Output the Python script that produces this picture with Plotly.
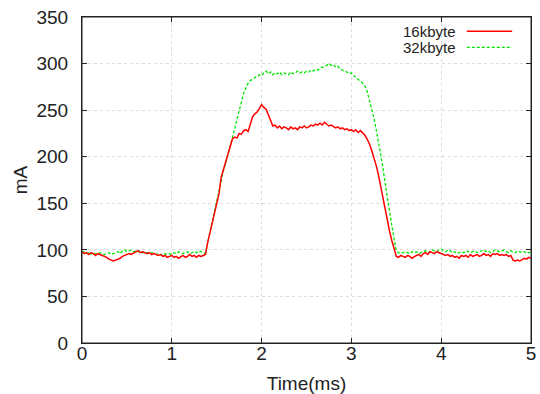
import plotly.graph_objects as go

DT = 0.025

# 16kbyte current trace (mA), sampled every DT from 0 to 5 ms
red_16k = [
    98, 96, 97, 95, 97, 96, 94, 96, 95,                      # 0.000-0.200
    94, 93, 92, 90, 89, 88, 89, 90, 91, 93, 94, 95,          # 0.225-0.500
    96, 95, 97, 98, 99, 97, 98, 97, 96, 97, 95, 96,          # 0.525-0.800
    95, 94, 95, 93, 94, 92, 93, 94, 92, 93, 91, 93, 94, 92, 93, 95, 93, 94, 92, 94, 93, 94,  # 0.825-1.350
    95, 108, 118, 128, 138, 148, 160, 178, 186, 193, 202, 210, 219, 221,                 # 1.375-1.700
    220, 225, 224, 228, 229, 227, 236, 243, 246, 248, 252, 256, 253, 251, 245, 238, 233, 234, 231, 233,  # 1.725-2.200
    230, 232, 231, 229, 232, 230, 231, 229, 232, 231, 233, 231, 232, 234, 233, 235, 234, 236, 234, 237,  # 2.225-2.700
    235, 233, 234, 232, 231, 232, 230, 231, 229, 230, 228, 229, 227, 229, 226, 228,                      # 2.725-3.100
    226, 223, 219, 214, 207, 200, 191, 181, 168, 155, 143, 131, 120, 110, 100, 93,                       # 3.125-3.500
    92, 94, 93, 92, 94, 93, 91, 93, 94, 95, 93, 96, 97, 95, 98, 97, 96, 98, 97, 96,                      # 3.525-4.000
    95, 94, 95, 93, 94, 92, 93, 91, 94, 93, 94, 92, 95, 93, 94, 95, 93, 94, 96, 94,                      # 4.025-4.500
    95, 93, 96, 95, 96, 94, 95, 94, 95, 93, 94, 89, 88, 89, 88, 90, 91, 90, 92, 91,                      # 4.525-5.000
]

# 32kbyte current trace (mA), same sampling
green_32k = [
    97, 98, 96, 97, 95, 97, 96, 95, 97,                      # 0.000-0.200
    96, 95, 96, 97, 95, 96, 97, 98, 96, 99, 100, 98,         # 0.225-0.500
    99, 100, 98, 99, 98, 99, 97, 98, 97, 96, 97, 96,         # 0.525-0.800
    95, 96, 95, 94, 96, 95, 96, 95, 97, 96, 98, 97, 96, 97, 98, 96, 97, 98, 97, 99, 98, 97,  # 0.825-1.350
    96, 108, 119, 129, 139, 150, 162, 175, 185, 193, 202, 211, 218, 230,                 # 1.375-1.700
    240, 250, 260, 268, 274, 279, 282, 283, 285, 286, 288, 287, 290, 292, 289, 291, 288, 290, 289, 291,  # 1.725-2.200
    288, 290, 289, 288, 291, 289, 290, 292, 290, 291, 290, 292, 291, 293, 292, 294, 293, 295, 296, 297,  # 2.225-2.700
    298, 300, 298, 299, 296, 297, 294, 293, 292, 291, 289, 290, 287, 285, 284, 282,                      # 2.725-3.100
    279, 276, 270, 261, 252, 242, 230, 217, 203, 189, 172, 155, 140, 126, 112, 99,                       # 3.125-3.500
    97, 96, 97, 98, 97, 96, 98, 97, 98, 96, 97, 98, 99, 97, 98, 100, 99, 98, 100, 101,                   # 3.525-4.000
    99, 98, 100, 99, 97, 98, 96, 97, 98, 97, 99, 98, 97, 98, 99, 97, 98, 99, 100, 98,                    # 4.025-4.500
    99, 97, 98, 100, 99, 98, 99, 100, 98, 97, 99, 98, 97, 99, 98, 97, 98, 96, 97, 98,                    # 4.525-5.000
]

time_red = [round(i * DT, 3) for i in range(len(red_16k))]
time_green = [round(i * DT, 3) for i in range(len(green_32k))]

x_ticks = [0, 1, 2, 3, 4, 5]
y_ticks = [0, 50, 100, 150, 200, 250, 300, 350]
series_names = ["16kbyte", "32kbyte"]

RED = "#ff0000"
GREEN = "#00e600"
FONT = "Liberation Sans, Arial, sans-serif"
TXT = "#222222"

fig = go.Figure()
fig.add_trace(go.Scatter(x=time_green, y=green_32k, mode="lines", name=series_names[1],
                         line=dict(color=GREEN, width=1.3, dash="3px,2px"), showlegend=False))
fig.add_trace(go.Scatter(x=time_red, y=red_16k, mode="lines", name=series_names[0],
                         line=dict(color=RED, width=1.5), showlegend=False))

axis_common = dict(
    showline=True, linecolor=TXT, linewidth=1, mirror="ticks",
    ticks="inside", ticklen=5, tickcolor=TXT, tickwidth=1,
    showgrid=True, gridcolor="#dcdcdc", gridwidth=1, griddash="dot",
    zeroline=False, automargin=False, ticklabeloverflow="allow",
    tickfont=dict(family=FONT, size=19, color=TXT),
)

fig.update_xaxes(range=[0, 5], tickvals=x_ticks, ticktext=[str(v) for v in x_ticks],
                 title=dict(text="Time(ms)", font=dict(family=FONT, size=19, color=TXT), standoff=13),
                 ticklabelstandoff=-7, **axis_common)
fig.update_yaxes(range=[0, 350], tickvals=y_ticks, ticktext=[str(v) for v in y_ticks],
                 title=dict(text="mA", font=dict(family=FONT, size=19, color=TXT), standoff=3),
                 ticklabelstandoff=9, **axis_common)

# plot frame (gnuplot-style closed border)
fig.add_shape(type="rect", xref="paper", yref="paper", x0=0, x1=1, y0=0, y1=1,
              line=dict(color=TXT, width=1), fillcolor="rgba(0,0,0,0)", layer="above")

# gnuplot-style legend: label text right-aligned, sample line to its right
legend_rows = [(series_names[0], RED, "solid", 0.956), (series_names[1], GREEN, "3px,2px", 0.907)]
for name, col, dash, yy in legend_rows:
    fig.add_annotation(xref="paper", yref="paper", x=0.836, y=yy, text=name, showarrow=False,
                       xanchor="right", yanchor="middle", borderpad=0,
                       font=dict(family=FONT, size=15, color=TXT))
    fig.add_shape(type="line", xref="paper", yref="paper", x0=0.857, x1=0.958, y0=yy, y1=yy,
                  line=dict(color=col, width=1.5 if dash == "solid" else 1.3, dash=dash))

fig.update_layout(
    width=540, height=394,
    margin=dict(l=82, r=9, t=17, b=51),
    paper_bgcolor="white", plot_bgcolor="white",
    font=dict(family=FONT, color=TXT),
)

# remove the default page margin so the 540x394 figure fills the window exactly
fig.write_html("out.html", config={"displayModeBar": False},
               post_script="document.body.style.margin='0';document.body.style.overflow='hidden';")
